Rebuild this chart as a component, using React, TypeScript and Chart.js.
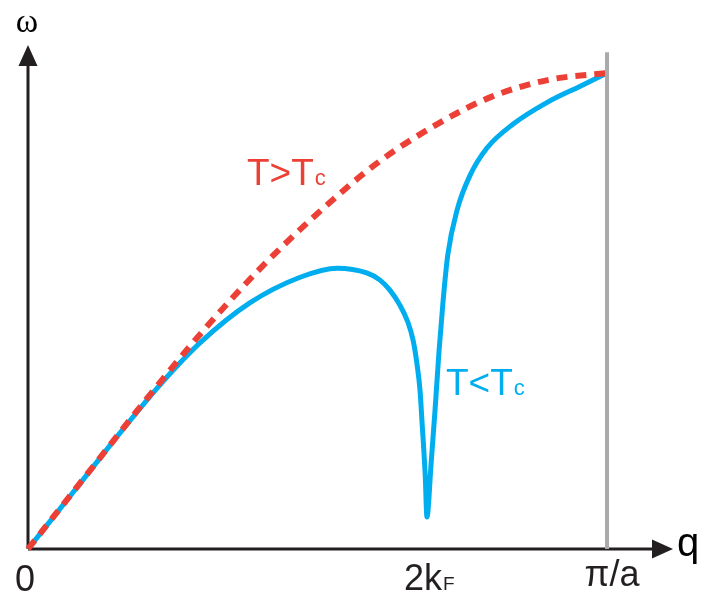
import React, { useEffect, useRef } from "react";
import { Chart, registerables } from "chart.js";

Chart.register(...registerables);

// Wavevector q in units of π/a, frequency ω normalised to the zone-boundary value.
const Q_NORMAL = [0, 0.1, 0.2, 0.3, 0.4, 0.5, 0.6, 0.7, 0.8, 0.9, 1];
const W_NORMAL = [0, 0.154, 0.308, 0.455, 0.588, 0.705, 0.808, 0.888, 0.95, 0.986, 1];

// Softened branch below the transition, with the Kohn anomaly at 2kF.
const Q_SOFT = [
  0, 0.081, 0.159, 0.228, 0.297, 0.383, 0.47, 0.534, 0.585, 0.608, 0.625, 0.642, 0.656, 0.665, 0.672, 0.677, 0.68, 0.686,
  0.689,
  0.696, 0.703, 0.71, 0.717, 0.725, 0.741, 0.763, 0.793, 0.838, 0.896, 0.953, 1,
];
const W_SOFT = [
  0, 0.124, 0.244, 0.345, 0.433, 0.517, 0.571, 0.59, 0.58, 0.565, 0.544, 0.513, 0.477, 0.439, 0.387, 0.334, 0.277, 0.155,
  0.067,
  0.176, 0.292, 0.418, 0.523, 0.618, 0.712, 0.784, 0.843, 0.893, 0.938, 0.972, 1,
];

// Brillouin-zone boundary marker.
const Q_ZONE = [1, 1];
const W_ZONE = [0, 1.044];

const Q_2KF = 0.689;
const X_MAX = 1.12;
const Y_MAX = 1.08;
const X_ARROW_TIP = 1.114;
const Y_ARROW_TIP = 1.059;

const RED = "#EC4037";
const BLUE = "#00AEEF";
const GREY = "#A9AAAD";
const INK = "#231F20";

const pts = (xs: number[], ys: number[]) => xs.map((x, i) => ({ x, y: ys[i] }));

const axesPlugin = {
  id: "axesWithArrows",
  beforeDatasetsDraw(chart: any) {
    const { ctx, scales } = chart;
    const xs = scales.x;
    const ys = scales.y;
    const ox = xs.getPixelForValue(0);
    const oy = ys.getPixelForValue(0);
    const xt = xs.getPixelForValue(X_ARROW_TIP);
    const yt = ys.getPixelForValue(Y_ARROW_TIP);
    const head = 21;
    const half = 9.5;
    ctx.save();
    ctx.strokeStyle = INK;
    ctx.fillStyle = INK;
    ctx.lineWidth = 3;
    ctx.lineCap = "butt";
    ctx.beginPath();
    ctx.moveTo(ox, oy);
    ctx.lineTo(xt - head + 2, oy);
    ctx.moveTo(ox, oy);
    ctx.lineTo(ox, yt + head - 2);
    ctx.stroke();
    ctx.beginPath();
    ctx.moveTo(xt, oy);
    ctx.lineTo(xt - head, oy - half);
    ctx.lineTo(xt - head, oy + half);
    ctx.closePath();
    ctx.fill();
    ctx.beginPath();
    ctx.moveTo(ox, yt);
    ctx.lineTo(ox - half, yt + head);
    ctx.lineTo(ox + half, yt + head);
    ctx.closePath();
    ctx.fill();
    ctx.restore();
  },
  afterDraw(chart: any) {
    const { ctx, scales } = chart;
    const xs = scales.x;
    const ys = scales.y;
    const ox = xs.getPixelForValue(0);
    const oy = ys.getPixelForValue(0);
    const sans = '"Liberation Sans", Arial, sans-serif';
    ctx.save();
    ctx.textBaseline = "alphabetic";

    // axis titles
    ctx.fillStyle = "#000";
    ctx.font = '34px "Liberation Serif", serif';
    ctx.textAlign = "center";
    ctx.fillText("ω", ox - 1, 32);
    ctx.font = "40px " + sans;
    ctx.textAlign = "left";
    ctx.fillText("q", xs.getPixelForValue(X_ARROW_TIP) + 4, oy + 7);

    // tick labels
    ctx.fillStyle = INK;
    ctx.font = "36px " + sans;
    ctx.textAlign = "center";
    ctx.fillText("0", ox - 3, oy + 42);
    ctx.textAlign = "left";
    const kx = xs.getPixelForValue(Q_2KF) - 23;
    ctx.fillText("2k", kx, oy + 41);
    const kw = ctx.measureText("2k").width;
    ctx.font = "19px " + sans;
    ctx.fillText("F", kx + kw + 1, oy + 41);
    ctx.font = "36px " + sans;
    ctx.textAlign = "center";
    ctx.fillText("π/a", xs.getPixelForValue(1) + 5, oy + 37);

    // curve labels
    const tag = (main: string, sub: string, x: number, y: number, color: string) => {
      ctx.fillStyle = color;
      ctx.textAlign = "left";
      ctx.font = "37px " + sans;
      ctx.fillText(main, x, y);
      const w = ctx.measureText(main).width;
      ctx.font = "22px " + sans;
      ctx.fillText(sub, x + w + 1, y);
    };
    tag("T>T", "c", 247, 185, RED);
    tag("T<T", "c", 446, 395, BLUE);
    ctx.restore();
  },
};

export default function App() {
  const ref = useRef<HTMLCanvasElement>(null);

  useEffect(() => {
    if (!ref.current) return;
    const chart = new Chart(ref.current, {
      type: "line",
      data: {
        datasets: [
          {
            label: "zone boundary",
            data: pts(Q_ZONE, W_ZONE),
            borderColor: GREY,
            borderWidth: 4,
            pointRadius: 0,
            tension: 0,
          },
          {
            label: "T>Tc",
            data: pts(Q_NORMAL, W_NORMAL),
            borderColor: RED,
            borderWidth: 6,
            borderDash: [11, 8],
            pointRadius: 0,
            cubicInterpolationMode: "monotone",
          },
          {
            label: "T<Tc",
            data: pts(Q_SOFT, W_SOFT),
            borderColor: BLUE,
            borderWidth: 5,
            pointRadius: 0,
            cubicInterpolationMode: "monotone",
          },
        ],
      },
      options: {
        animation: false,
        responsive: false,
        devicePixelRatio: 1,
        clip: false as any,
        layout: { padding: { left: 28, right: 27.5, top: 35, bottom: 50 } },
        plugins: { legend: { display: false }, tooltip: { enabled: false } },
        scales: {
          x: { type: "linear", min: 0, max: X_MAX, display: false },
          y: { type: "linear", min: 0, max: Y_MAX, display: false },
        },
      },
      plugins: [axesPlugin],
    });
    return () => chart.destroy();
  }, []);

  return (
    <div style={{ position: "fixed", left: 0, top: 0, width: 704, height: 599, background: "#fff" }}>
      <canvas ref={ref} width={704} height={599} />
    </div>
  );
}
